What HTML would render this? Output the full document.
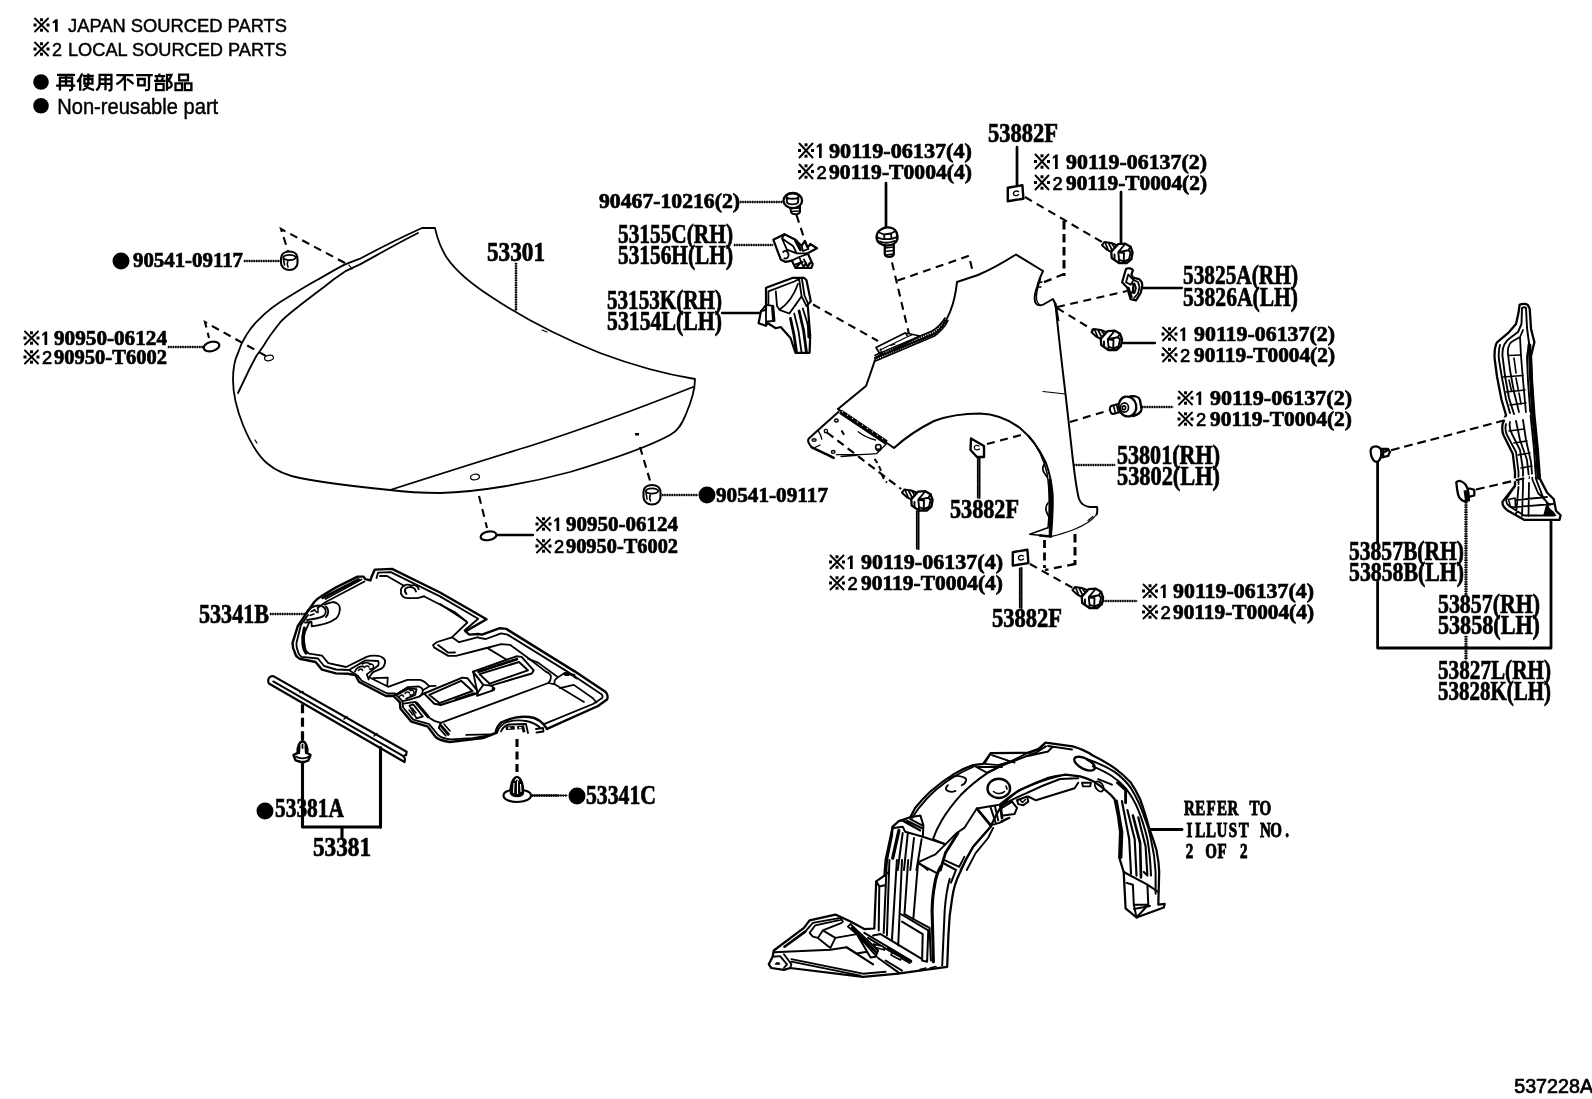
<!DOCTYPE html>
<html><head><meta charset="utf-8"><title>537228A</title>
<style>
html,body{margin:0;padding:0;background:#fff;}
body{width:1592px;height:1099px;overflow:hidden;font-family:"Liberation Sans",sans-serif;}
svg{display:block;position:absolute;left:0;top:0;filter:grayscale(1);}
.s{font-family:"Liberation Serif",serif;font-weight:bold;fill:#000;stroke:#000;stroke-width:0.7;}
.n{font-family:"Liberation Sans",sans-serif;fill:#000;stroke:#000;stroke-width:0.45;}
.m{font-family:"Liberation Mono",monospace;font-weight:bold;fill:#000;}
.l{fill:none;stroke:#000;stroke-width:1.6;stroke-linecap:round;stroke-linejoin:round;}
.t{fill:none;stroke:#000;stroke-width:1.2;stroke-linecap:round;stroke-linejoin:round;}
.b{fill:none;stroke:#000;stroke-width:2.7;stroke-linecap:round;stroke-linejoin:round;}
.d{fill:none;stroke:#000;stroke-width:2.1;stroke-dasharray:8 5.5;}
.dd{fill:none;stroke:#000;stroke-width:2.6;stroke-dasharray:1.3 1.1;}
.w{fill:#fff;stroke:#000;stroke-width:1.4;stroke-linejoin:round;}
.k{fill:#000;stroke:none;}
</style></head><body>
<svg width="1592" height="1099" viewBox="0 0 1592 1099">
<rect x="0" y="0" width="1592" height="1099" fill="#fff"/>
<!-- 10_text.svg -->
<g id="text">
<path class="l" style="stroke-width:1.9" d="M35.0 18.5 L48.0 31.5 M48.0 18.5 L35.0 31.5"/>
<rect class="k" x="40.0" y="18.3" width="3" height="3"/>
<rect class="k" x="40.0" y="28.7" width="3" height="3"/>
<rect class="k" x="33.5" y="23.5" width="3" height="3"/>
<rect class="k" x="46.5" y="23.5" width="3" height="3"/>
<path class="k" d="M55.0 31.8 L55.0 22.4 L52.7 23.8 L52.7 21.8 L55.7 19.2 L57.7 19.2 L57.7 31.8 Z"/>
<text class="n" x="68.0" y="31.8" font-size="18.0" textLength="219.0" lengthAdjust="spacingAndGlyphs">JAPAN SOURCED PARTS</text>
<path class="l" style="stroke-width:1.9" d="M35.0 42.5 L48.0 55.5 M48.0 42.5 L35.0 55.5"/>
<rect class="k" x="40.0" y="42.3" width="3" height="3"/>
<rect class="k" x="40.0" y="52.7" width="3" height="3"/>
<rect class="k" x="33.5" y="47.5" width="3" height="3"/>
<rect class="k" x="46.5" y="47.5" width="3" height="3"/>
<text class="n" x="52" y="55.6" font-size="18">2</text>
<text class="n" x="68.0" y="55.6" font-size="18.0" textLength="219.0" lengthAdjust="spacingAndGlyphs">LOCAL SOURCED PARTS</text>
<ellipse class="k" cx="41.0" cy="82.0" rx="7.8" ry="7.8"/>
<ellipse class="k" cx="41.0" cy="105.8" rx="7.8" ry="7.8"/>
<text class="n" x="57.2" y="113.5" font-size="22.2" textLength="161.0" lengthAdjust="spacingAndGlyphs">Non-reusable part</text>
<text class="s" x="487.0" y="261.0" font-size="26.3" textLength="58.0" lengthAdjust="spacingAndGlyphs">53301</text>
<text class="s" x="618.0" y="243.0" font-size="26.3" textLength="115.0" lengthAdjust="spacingAndGlyphs">53155C(RH)</text>
<text class="s" x="618.0" y="264.0" font-size="26.3" textLength="115.0" lengthAdjust="spacingAndGlyphs">53156H(LH)</text>
<text class="s" x="607.0" y="309.0" font-size="26.3" textLength="115.0" lengthAdjust="spacingAndGlyphs">53153K(RH)</text>
<text class="s" x="607.0" y="330.0" font-size="26.3" textLength="115.0" lengthAdjust="spacingAndGlyphs">53154L(LH)</text>
<text class="s" x="988.0" y="142.0" font-size="26.3" textLength="70.0" lengthAdjust="spacingAndGlyphs">53882F</text>
<text class="s" x="1183.0" y="284.0" font-size="26.3" textLength="115.0" lengthAdjust="spacingAndGlyphs">53825A(RH)</text>
<text class="s" x="1183.0" y="306.0" font-size="26.3" textLength="115.0" lengthAdjust="spacingAndGlyphs">53826A(LH)</text>
<text class="s" x="1117.0" y="464.0" font-size="26.3" textLength="103.0" lengthAdjust="spacingAndGlyphs">53801(RH)</text>
<text class="s" x="1117.0" y="485.0" font-size="26.3" textLength="103.0" lengthAdjust="spacingAndGlyphs">53802(LH)</text>
<text class="s" x="950.0" y="518.0" font-size="26.3" textLength="69.0" lengthAdjust="spacingAndGlyphs">53882F</text>
<text class="s" x="992.0" y="627.0" font-size="26.3" textLength="70.0" lengthAdjust="spacingAndGlyphs">53882F</text>
<text class="s" x="1349.0" y="560.0" font-size="26.3" textLength="115.0" lengthAdjust="spacingAndGlyphs">53857B(RH)</text>
<text class="s" x="1349.0" y="581.0" font-size="26.3" textLength="115.0" lengthAdjust="spacingAndGlyphs">53858B(LH)</text>
<text class="s" x="1438.0" y="613.0" font-size="26.3" textLength="102.0" lengthAdjust="spacingAndGlyphs">53857(RH)</text>
<text class="s" x="1438.0" y="634.0" font-size="26.3" textLength="102.0" lengthAdjust="spacingAndGlyphs">53858(LH)</text>
<text class="s" x="1438.0" y="679.0" font-size="26.3" textLength="113.0" lengthAdjust="spacingAndGlyphs">53827L(RH)</text>
<text class="s" x="1438.0" y="700.0" font-size="26.3" textLength="113.0" lengthAdjust="spacingAndGlyphs">53828K(LH)</text>
<text class="s" x="199.0" y="623.0" font-size="26.3" textLength="70.0" lengthAdjust="spacingAndGlyphs">53341B</text>
<text class="s" x="275.0" y="817.3" font-size="26.3" textLength="69.0" lengthAdjust="spacingAndGlyphs">53381A</text>
<ellipse class="k" cx="265.0" cy="811.0" rx="8.5" ry="8.5"/>
<text class="s" x="313.0" y="856.0" font-size="26.3" textLength="58.0" lengthAdjust="spacingAndGlyphs">53381</text>
<text class="s" x="586.0" y="804.0" font-size="26.3" textLength="70.0" lengthAdjust="spacingAndGlyphs">53341C</text>
<ellipse class="k" cx="577.0" cy="796.0" rx="8.5" ry="8.5"/>
<text class="s" x="133.0" y="267.0" font-size="21.4" textLength="110.0" lengthAdjust="spacingAndGlyphs">90541-09117</text>
<ellipse class="k" cx="121.0" cy="261.0" rx="8.5" ry="8.5"/>
<text class="s" x="716.0" y="502.0" font-size="21.4" textLength="112.0" lengthAdjust="spacingAndGlyphs">90541-09117</text>
<ellipse class="k" cx="707.0" cy="495.0" rx="8.5" ry="8.5"/>
<path class="l" style="stroke-width:1.9" d="M25.0 331.5 L38.0 344.5 M38.0 331.5 L25.0 344.5"/>
<rect class="k" x="30.0" y="331.3" width="3" height="3"/>
<rect class="k" x="30.0" y="341.7" width="3" height="3"/>
<rect class="k" x="23.5" y="336.5" width="3" height="3"/>
<rect class="k" x="36.5" y="336.5" width="3" height="3"/>
<path class="k" d="M44.5 345.0 L44.5 334.6 L42.2 336.0 L42.2 334.0 L45.2 331.4 L47.2 331.4 L47.2 345.0 Z"/>
<text class="s" x="54.0" y="345.0" font-size="21.4" textLength="113.0" lengthAdjust="spacingAndGlyphs">90950-06124</text>
<path class="l" style="stroke-width:1.9" d="M25.0 350.5 L38.0 363.5 M38.0 350.5 L25.0 363.5"/>
<rect class="k" x="30.0" y="350.3" width="3" height="3"/>
<rect class="k" x="30.0" y="360.7" width="3" height="3"/>
<rect class="k" x="23.5" y="355.5" width="3" height="3"/>
<rect class="k" x="36.5" y="355.5" width="3" height="3"/>
<text class="n" style="stroke-width:0.7" x="42.1" y="364.0" font-size="18.3">2</text>
<text class="s" x="54.0" y="364.0" font-size="21.4" textLength="113.0" lengthAdjust="spacingAndGlyphs">90950-T6002</text>
<path class="l" style="stroke-width:1.9" d="M537.0 517.5 L550.0 530.5 M550.0 517.5 L537.0 530.5"/>
<rect class="k" x="542.0" y="517.3" width="3" height="3"/>
<rect class="k" x="542.0" y="527.7" width="3" height="3"/>
<rect class="k" x="535.5" y="522.5" width="3" height="3"/>
<rect class="k" x="548.5" y="522.5" width="3" height="3"/>
<path class="k" d="M556.5 531.0 L556.5 520.6 L554.2 522.0 L554.2 520.0 L557.2 517.4 L559.2 517.4 L559.2 531.0 Z"/>
<text class="s" x="566.0" y="531.0" font-size="21.4" textLength="112.0" lengthAdjust="spacingAndGlyphs">90950-06124</text>
<path class="l" style="stroke-width:1.9" d="M537.0 539.5 L550.0 552.5 M550.0 539.5 L537.0 552.5"/>
<rect class="k" x="542.0" y="539.3" width="3" height="3"/>
<rect class="k" x="542.0" y="549.7" width="3" height="3"/>
<rect class="k" x="535.5" y="544.5" width="3" height="3"/>
<rect class="k" x="548.5" y="544.5" width="3" height="3"/>
<text class="n" style="stroke-width:0.7" x="554.1" y="553.0" font-size="18.3">2</text>
<text class="s" x="566.0" y="553.0" font-size="21.4" textLength="112.0" lengthAdjust="spacingAndGlyphs">90950-T6002</text>
<text class="s" x="599.0" y="208.0" font-size="21.4" textLength="141.0" lengthAdjust="spacingAndGlyphs">90467-10216(2)</text>
<path class="l" style="stroke-width:1.9" d="M799.5 143.5 L812.5 157.5 M812.5 143.5 L799.5 157.5"/>
<rect class="k" x="804.5" y="143.3" width="3" height="3"/>
<rect class="k" x="804.5" y="154.7" width="3" height="3"/>
<rect class="k" x="798.0" y="149.0" width="3" height="3"/>
<rect class="k" x="811.0" y="149.0" width="3" height="3"/>
<path class="k" d="M819.0 158.0 L819.0 146.6 L816.7 148.0 L816.7 146.0 L819.7 143.4 L821.7 143.4 L821.7 158.0 Z"/>
<text class="s" x="829.0" y="158.0" font-size="21.4" textLength="143.0" lengthAdjust="spacingAndGlyphs">90119-06137(4)</text>
<path class="l" style="stroke-width:1.9" d="M799.5 164.5 L812.5 178.5 M812.5 164.5 L799.5 178.5"/>
<rect class="k" x="804.5" y="164.3" width="3" height="3"/>
<rect class="k" x="804.5" y="175.7" width="3" height="3"/>
<rect class="k" x="798.0" y="170.0" width="3" height="3"/>
<rect class="k" x="811.0" y="170.0" width="3" height="3"/>
<text class="n" style="stroke-width:0.7" x="816.6" y="179.0" font-size="18.3">2</text>
<text class="s" x="829.0" y="179.0" font-size="21.4" textLength="143.0" lengthAdjust="spacingAndGlyphs">90119-T0004(4)</text>
<path class="l" style="stroke-width:1.9" d="M1035.5 154.5 L1048.5 168.5 M1048.5 154.5 L1035.5 168.5"/>
<rect class="k" x="1040.5" y="154.3" width="3" height="3"/>
<rect class="k" x="1040.5" y="165.7" width="3" height="3"/>
<rect class="k" x="1034.0" y="160.0" width="3" height="3"/>
<rect class="k" x="1047.0" y="160.0" width="3" height="3"/>
<path class="k" d="M1055.0 169.0 L1055.0 157.6 L1052.7 159.0 L1052.7 157.0 L1055.7 154.4 L1057.7 154.4 L1057.7 169.0 Z"/>
<text class="s" x="1066.0" y="169.0" font-size="21.4" textLength="141.0" lengthAdjust="spacingAndGlyphs">90119-06137(2)</text>
<path class="l" style="stroke-width:1.9" d="M1035.5 175.5 L1048.5 189.5 M1048.5 175.5 L1035.5 189.5"/>
<rect class="k" x="1040.5" y="175.3" width="3" height="3"/>
<rect class="k" x="1040.5" y="186.7" width="3" height="3"/>
<rect class="k" x="1034.0" y="181.0" width="3" height="3"/>
<rect class="k" x="1047.0" y="181.0" width="3" height="3"/>
<text class="n" style="stroke-width:0.7" x="1052.6" y="190.0" font-size="18.3">2</text>
<text class="s" x="1066.0" y="190.0" font-size="21.4" textLength="141.0" lengthAdjust="spacingAndGlyphs">90119-T0004(2)</text>
<path class="l" style="stroke-width:1.9" d="M1163.0 327.5 L1176.0 340.5 M1176.0 327.5 L1163.0 340.5"/>
<rect class="k" x="1168.0" y="327.3" width="3" height="3"/>
<rect class="k" x="1168.0" y="337.7" width="3" height="3"/>
<rect class="k" x="1161.5" y="332.5" width="3" height="3"/>
<rect class="k" x="1174.5" y="332.5" width="3" height="3"/>
<path class="k" d="M1182.5 341.0 L1182.5 330.6 L1180.2 332.0 L1180.2 330.0 L1183.2 327.4 L1185.2 327.4 L1185.2 341.0 Z"/>
<text class="s" x="1194.0" y="341.0" font-size="21.4" textLength="141.0" lengthAdjust="spacingAndGlyphs">90119-06137(2)</text>
<path class="l" style="stroke-width:1.9" d="M1163.0 348.0 L1176.0 361.5 M1176.0 348.0 L1163.0 361.5"/>
<rect class="k" x="1168.0" y="347.8" width="3" height="3"/>
<rect class="k" x="1168.0" y="358.7" width="3" height="3"/>
<rect class="k" x="1161.5" y="353.2" width="3" height="3"/>
<rect class="k" x="1174.5" y="353.2" width="3" height="3"/>
<text class="n" style="stroke-width:0.7" x="1180.1" y="362.0" font-size="18.3">2</text>
<text class="s" x="1194.0" y="362.0" font-size="21.4" textLength="141.0" lengthAdjust="spacingAndGlyphs">90119-T0004(2)</text>
<path class="l" style="stroke-width:1.9" d="M1179.0 391.5 L1192.0 404.5 M1192.0 391.5 L1179.0 404.5"/>
<rect class="k" x="1184.0" y="391.3" width="3" height="3"/>
<rect class="k" x="1184.0" y="401.7" width="3" height="3"/>
<rect class="k" x="1177.5" y="396.5" width="3" height="3"/>
<rect class="k" x="1190.5" y="396.5" width="3" height="3"/>
<path class="k" d="M1198.5 405.0 L1198.5 394.6 L1196.2 396.0 L1196.2 394.0 L1199.2 391.4 L1201.2 391.4 L1201.2 405.0 Z"/>
<text class="s" x="1210.0" y="405.0" font-size="21.4" textLength="142.0" lengthAdjust="spacingAndGlyphs">90119-06137(2)</text>
<path class="l" style="stroke-width:1.9" d="M1179.0 412.5 L1192.0 425.5 M1192.0 412.5 L1179.0 425.5"/>
<rect class="k" x="1184.0" y="412.3" width="3" height="3"/>
<rect class="k" x="1184.0" y="422.7" width="3" height="3"/>
<rect class="k" x="1177.5" y="417.5" width="3" height="3"/>
<rect class="k" x="1190.5" y="417.5" width="3" height="3"/>
<text class="n" style="stroke-width:0.7" x="1196.1" y="426.0" font-size="18.3">2</text>
<text class="s" x="1210.0" y="426.0" font-size="21.4" textLength="142.0" lengthAdjust="spacingAndGlyphs">90119-T0004(2)</text>
<path class="l" style="stroke-width:1.9" d="M830.5 555.5 L843.5 568.5 M843.5 555.5 L830.5 568.5"/>
<rect class="k" x="835.5" y="555.3" width="3" height="3"/>
<rect class="k" x="835.5" y="565.7" width="3" height="3"/>
<rect class="k" x="829.0" y="560.5" width="3" height="3"/>
<rect class="k" x="842.0" y="560.5" width="3" height="3"/>
<path class="k" d="M850.0 569.0 L850.0 558.6 L847.7 560.0 L847.7 558.0 L850.7 555.4 L852.7 555.4 L852.7 569.0 Z"/>
<text class="s" x="861.0" y="569.0" font-size="21.4" textLength="142.0" lengthAdjust="spacingAndGlyphs">90119-06137(4)</text>
<path class="l" style="stroke-width:1.9" d="M830.5 576.5 L843.5 589.5 M843.5 576.5 L830.5 589.5"/>
<rect class="k" x="835.5" y="576.3" width="3" height="3"/>
<rect class="k" x="835.5" y="586.7" width="3" height="3"/>
<rect class="k" x="829.0" y="581.5" width="3" height="3"/>
<rect class="k" x="842.0" y="581.5" width="3" height="3"/>
<text class="n" style="stroke-width:0.7" x="847.6" y="590.0" font-size="18.3">2</text>
<text class="s" x="861.0" y="590.0" font-size="21.4" textLength="142.0" lengthAdjust="spacingAndGlyphs">90119-T0004(4)</text>
<path class="l" style="stroke-width:1.9" d="M1143.5 584.5 L1156.5 597.5 M1156.5 584.5 L1143.5 597.5"/>
<rect class="k" x="1148.5" y="584.3" width="3" height="3"/>
<rect class="k" x="1148.5" y="594.7" width="3" height="3"/>
<rect class="k" x="1142.0" y="589.5" width="3" height="3"/>
<rect class="k" x="1155.0" y="589.5" width="3" height="3"/>
<path class="k" d="M1163.0 598.0 L1163.0 587.6 L1160.7 589.0 L1160.7 587.0 L1163.7 584.4 L1165.7 584.4 L1165.7 598.0 Z"/>
<text class="s" x="1173.0" y="598.0" font-size="21.4" textLength="141.0" lengthAdjust="spacingAndGlyphs">90119-06137(4)</text>
<path class="l" style="stroke-width:1.9" d="M1143.5 605.5 L1156.5 618.5 M1156.5 605.5 L1143.5 618.5"/>
<rect class="k" x="1148.5" y="605.3" width="3" height="3"/>
<rect class="k" x="1148.5" y="615.7" width="3" height="3"/>
<rect class="k" x="1142.0" y="610.5" width="3" height="3"/>
<rect class="k" x="1155.0" y="610.5" width="3" height="3"/>
<text class="n" style="stroke-width:0.7" x="1160.6" y="619.0" font-size="18.3">2</text>
<text class="s" x="1173.0" y="619.0" font-size="21.4" textLength="141.0" lengthAdjust="spacingAndGlyphs">90119-T0004(4)</text>
<g transform="translate(1184.0 814.6) scale(0.740 1)"><text class="s" style="stroke-width:0.9" text-anchor="middle" x="7.33 21.99 36.66 51.32 65.98 80.64 95.30 109.97" y="0" font-size="20.3">REFER TO</text></g>
<g transform="translate(1184.0 836.7) scale(0.740 1)"><text class="s" style="stroke-width:0.9" text-anchor="middle" x="7.33 21.99 36.66 51.32 65.98 80.64 95.30 109.97 124.63 139.29" y="0" font-size="20.3">ILLUST NO.</text></g>
<g transform="translate(1184.0 857.8) scale(0.740 1)"><text class="s" style="stroke-width:0.9" text-anchor="middle" x="7.33 21.99 36.66 51.32 65.98 80.64" y="0" font-size="20.3">2 OF 2</text></g>
<text class="n" style="stroke-width:0.7" x="1514.2" y="1093" font-size="19.7">537228A</text>
</g>
<!-- 15_jp.svg -->
<g id="jp" fill="none" stroke="#000" stroke-width="2.300" stroke-linecap="butt" stroke-linejoin="miter">
<!-- 再 -->
<path d="M57 74.900 H75 M59.900 77.400 V90.600 M72.100 77.400 V88.500 C72.100 90 71 90.300 69 90.300 M58.800 77.600 H73.200 M59.900 81.400 H72.100 M66 74.900 V85.400 M56.100 85.600 H75.200"/>
<!-- 使 -->
<path d="M82.300 73.500 C81 77 79.500 79.500 77.200 82 M80.200 78.400 V90.800 M83 76 H93.800 M84.400 79 H92.400 V83.600 H84.400 Z M88.300 73.600 V84 C87.500 87 85.500 89 82.500 90.300 M84.400 85.400 C87 87.500 90 89.200 94 90.200"/>
<!-- 用 -->
<path d="M99.600 74.800 H111.400 V88.700 C111.400 90.200 110.500 90.500 108.500 90.500 M99.600 73.700 V84 C99.500 87 98.500 89 96.200 90.300 M99.600 79.300 H111.400 M99.600 83.800 H111.400 M105.500 74.800 V90.300"/>
<!-- 不 -->
<path d="M116.400 75.100 H133.500 M124.900 75.100 V90.800 M125 75.500 C123 79.500 120 82.500 116.300 84.300 M127 79 C129.500 80.500 131.500 82 133.500 84"/>
<!-- 可 -->
<path d="M136.100 75.100 H152.800 M138.200 79 H144.700 V85.400 H138.200 Z M149 75.100 V88.500 C149 90 148 90.300 145 90.200"/>
<!-- 部 -->
<path d="M159.400 73.600 V76 M154.600 76.200 H165 M156.700 77.500 L157.500 80.500 M162.800 77.500 L162 80.500 M154.100 80.800 H165.500 M156.100 83.800 H163.600 V90.100 H156.100 Z M167 73.700 V90.800 M167 74.800 H171.500 C170.500 77.500 169.500 79 168.500 80.500 C171 82 172 84 171.500 86 C171 87.500 170 88 168 87.800"/>
<!-- 品 -->
<path d="M179.200 74.600 H188 V80.300 H179.200 Z M175.500 83.300 H182 V90.100 H175.500 Z M184.900 83.300 H191.400 V90.100 H184.900 Z"/>
</g>
<!-- 20_hood.svg -->
<g id="hood">
<!-- outer outline -->
<path class="l" style="stroke-width:1.800" d="M422 228 L435 228 C436 232 438 244 447 258 C456 271 470 283 490 296 C520 316 560 337 600 353 C640 368 670 375 695 379
 C695 388 692 400 686 414 C682 424 678 431 670 435 C650 446 610 460 570 472 C530 483 480 492 440 493 C420 493 405 492 390 490
 C360 487 330 484 300 478 C285 475 275 470 268 464 C258 456 250 442 243 425 C237 410 233 395 233 380 C233 370 234 361 238 353 C240 346 243 340 246.400 334.900 C250 329 254 324 259 319.400 C268 310 278 303 288.700 296.800 C298 291 308 285 317 280 C326 275 336 269 345 264.400 L360 258.700 C380 248 402 237 422 228 Z"/>
<!-- inner left line -->
<path class="l" style="stroke-width:1.800" d="M418 233 C398 243 379 254 360 264.400 L345 271.400 C338 276 331 281 324 287 C316 293 308 299 300 305.300 C293 311 286 316 280.300 322.200 C274 330 268 338 263.300 346.200 L256.300 356 L249 370 L238 393"/>
<!-- crease -->
<path class="l" style="stroke-width:1.800" d="M390 490 C440 474 490 458 530 446 C580 430 640 408 693 387"/>
<!-- small marks -->
<path class="t" d="M349 265 l3 4 M255 440 l2 3 M542 330 l5 2"/>
<rect class="k" x="635" y="433" width="4" height="2.5"/>
<ellipse class="t" cx="269" cy="358" rx="4.5" ry="2.6" transform="rotate(-12 269 358)"/>
<ellipse class="t" cx="475" cy="477" rx="4.5" ry="2.8" transform="rotate(-12 475 477)"/>
<!-- dashed leaders -->
<path class="d" d="M345 263 L281 229 L288 251"/>
<path class="d" d="M266 356 L205 322 L209 338"/>
<path class="d" d="M479 496 L487 528"/>
<path class="d" d="M640 447 L651 484"/>
<!-- ovals (grommets) -->
<ellipse class="w" style="stroke-width:2.200" cx="211.5" cy="346.5" rx="8" ry="4.6" transform="rotate(-14 211.5 346.5)"/>
<ellipse class="w" style="stroke-width:2.200" cx="488.5" cy="535.8" rx="8" ry="4.3" transform="rotate(-10 488.5 535.8)"/>
<!-- leaders -->
<path class="t" style="stroke-width:1.1" d="M244 261 L281 261"/><path class="dd" d="M244 261 L281 261"/>
<path class="t" style="stroke-width:1.1" d="M168 347 L203 347"/><path class="dd" d="M168 347 L203 347"/>
<path class="l" style="stroke-width:2.300" d="M497 535 L533 535"/>
<path class="t" style="stroke-width:1.1" d="M662 495 L698 495"/><path class="dd" d="M662 495 L698 495"/>
<path class="t" style="stroke-width:1.1" d="M516 263 L516 311"/><path class="dd" d="M516 263 L516 311"/>
<!-- nuts -->
<g id="nut1">
<path class="w" style="stroke-width:2.100" d="M281 259 C281 254 285 251.500 289.500 251.500 C294 251.500 297.500 254 297.500 259 L297.500 263 C297.500 267 294 270 289.500 270 C285 270 281 267 281 263 Z"/>
<path class="l" style="stroke-width:1.600" d="M283 257.500 C285 254 294 254 296 257.500 C294 261 285 261 283 257.500 Z M283.500 259 L284.500 265 M288 260.500 C287 263 287 265 288 267"/>
</g>
<g id="nut2">
<path class="w" style="stroke-width:2.100" d="M643.500 492.500 C643.500 487.500 647.500 485 652 485 C656.500 485 660.500 487.500 660.500 492.500 L660.500 497 C660.500 501 657 504.500 652 504.500 C647 504.500 643.500 501 643.500 497 Z"/>
<path class="l" style="stroke-width:1.600" d="M645.500 491 C647.500 487.500 656.500 487.500 658.500 491 C656.500 494.500 647.500 494.500 645.500 491 Z M646 492.500 L647 499 M650.500 494 C649.500 496.500 649.500 499 650.500 501"/>
</g>
</g>
<!-- 30_fender.svg -->
<g id="fender">
<!-- main outline upper -->
<path class="l" style="stroke-width:2" d="M838 409 L866 386 C869 378 872 369 875 360
 M875 358 L934 334 C940 330 946 322 950 312 C954 302 956 292 957 282 L978 275 C990 270 1001 264 1016 254.5 L1043 271
 C1041 275 1039 280 1037 287 C1034 296 1034 301 1036 303.5 C1038 306 1042 306 1046 303 L1053 299 L1055.5 304
 C1058 330 1062 365 1065.5 394 C1068 415 1070 435 1072 452 C1074 470 1076 488 1079 499 C1081 504 1085 506.500 1090 507 L1097 507 C1097.500 510 1097.300 512.500 1096.600 514.500"/>
<path class="t" style="stroke-width:1.200" d="M1096.600 514.500 C1094 518 1091 520.500 1088.600 522 C1084 525 1079 527.500 1074 529.500 C1066 532.500 1058 535 1051.500 536.400 M1088 520.500 l5 -4"/>
<path class="l" style="stroke-width:1.500" d="M1051.500 536.400 L1029.700 534.300 L1047.800 527.700"/>
<path class="b" style="stroke-width:2.600" d="M1040 535.500 L1051 536.500"/>
<path class="k" d="M1053 300 L1056.500 303.500 L1059.500 321 L1057.500 321 L1054.500 306 Z"/>
<path class="t" d="M1043 391.5 L1065.5 394"/>
<path class="t" style="stroke-width:1.400" d="M1038 283 l4 -1 M1038 287 l3 0 M1040.500 279 C1038 286 1036 293 1036.500 299 C1037 302 1039 304.500 1041 305.500"/>
<!-- wheel arch -->
<path class="l" style="stroke-width:2" d="M838 409 L894 448 C905 438 918 429 934 421 C950 415 965 413.5 980 413.5 C995 414 1008 419 1020 428 C1032 438 1040 450 1046 463 C1050 474 1052 486 1052.7 495 C1053 510 1052 525 1051 536"/>
<path class="l" style="stroke-width:1.500" d="M1029 436 C1038 447 1044 460 1047 473 C1049 485 1049.500 500 1049 515 L1048 528"/>
<path class="b" style="stroke-width:3.200" d="M1049.800 480 C1050.800 495 1050.800 515 1050.300 535.500"/>
<path class="l" style="stroke-width:1.700" d="M1044.500 464 C1042.500 466.500 1042.500 470 1044 472.500 L1047 477 M1048 503 C1045.500 506 1045.500 510 1047 513 L1049.500 518 M1029 437 l5 5.500"/>
<!-- upper rail with hatching -->
<path class="w" style="stroke-width:1.700" d="M876 347.500 L905 333 L913 334.500 L920 336 L887 353 L880 354 Z"/>
<path class="l" style="stroke-width:1.300" d="M880 350 L908 336.500 M905 333 L908 336.500 L913 334.500"/>
<path class="t" d="M891 345.500 l4 -1.500 M880.500 349 l1 4"/>
<path d="M876 358 L933 333.500 C939 329.500 943 325 946 319.500" fill="none" stroke="#000" stroke-width="4.600" stroke-dasharray="1.300 1.100"/>
<path class="l" style="stroke-width:1.600" d="M875 355.300 L932 331 C938 327.500 942 323 945 318 M875.500 361 L934.500 336 C940 332 945 327 948 320.500"/>
<!-- lower band hatch -->
<path d="M840.500 411.800 L886.400 442.500" fill="none" stroke="#000" stroke-width="4.800"/>
<path d="M842 411.500 L886 441" fill="none" stroke="#fff" stroke-width="1.100" stroke-dasharray="1.200 4.800"/>
<!-- bottom tab -->
<path class="l" style="stroke-width:2" d="M838.700 411.800 L818.200 430 L809.100 438.200 C808 439.500 808 441.500 808.600 442.800 C809.500 444.500 810.500 446 811.800 447.300"/>
<path class="b" style="stroke-width:2.600;stroke-dasharray:4 1.300" d="M811.800 447.300 L833.700 457.800"/>
<path class="l" style="stroke-width:1.300" d="M836.400 454.600 L860 454.600 M841 456.500 L857 455.300 M860 454.600 C866 454.500 872 454.300 876.400 453.700 L886.400 443.700"/>
<path class="l" style="stroke-width:1.300" d="M858.200 431.800 C863 435.500 869 438.500 875.500 440 M818.200 430.900 C820 433.500 821.300 436.500 821.800 439.100 M815 447.500 l5 -2.500"/>
<ellipse class="l" style="stroke-width:1.400" cx="836.400" cy="420.500" rx="1.800" ry="1.500"/>
<ellipse class="l" style="stroke-width:1.400" cx="825.900" cy="430.900" rx="1.600" ry="1.800"/>
<ellipse class="l" style="stroke-width:1.400" cx="814.100" cy="440" rx="2" ry="1.300"/>
<ellipse class="l" style="stroke-width:1.400" cx="833.200" cy="451.900" rx="1.800" ry="1.400"/>
<ellipse class="l" style="stroke-width:1.600" cx="878.300" cy="446.900" rx="2.700" ry="2.400"/>
<path class="t" style="stroke-width:1.300" d="M876 449.500 c1 1.500 3 1.500 4.500 0.500"/>
<!-- dashed leaders -->
<path class="d" d="M892 262.5 L909 334"/>
<path class="d" d="M897.5 280.6 L969 255.8 L973 273"/>
<path class="d" d="M813 304.5 L878 341"/>
<path class="d" d="M1025 197 L1102 242"/>
<path class="d" style="stroke-width:3;stroke-dasharray:8.500 4.500" d="M1064 221 L1064 276"/><path class="d" style="stroke-width:2.300" d="M1064 274 L1043 282.500"/>
<path class="d" d="M1057 307 L1127 291"/>
<path class="d" d="M1057 308 L1093 330"/>
<path class="d" d="M1070 422 L1110 410"/>
<path class="d" d="M987 444 L1025 434"/>
<path class="d" style="stroke-width:2.200;stroke-dasharray:8 5" d="M827 432.500 L901 489"/>
<path class="d" style="stroke-width:2;stroke-dasharray:5 3.500" d="M841.500 430.500 l3 5 M874.500 459 C878 463 881 470 882.500 476 C883.500 479 885 481 887 482.500"/>
<path class="d" style="stroke-width:3;stroke-dasharray:8.500 4.500" d="M1075 534 L1075 565"/><path class="d" style="stroke-width:2.300" d="M1075 564 L1045 570"/>
<path class="d" style="stroke-width:2.800;stroke-dasharray:8 4.500" d="M1044.500 540 L1044.500 568"/>
<path class="d" d="M1030 564 L1073 588"/>
<!-- leaders -->
<path class="b" d="M886 183 L886 227"/>
<path class="b" d="M1017 147 L1017 185"/>
<path class="b" d="M1121 192 L1121 243"/>
<path class="l" style="stroke-width:2.300" d="M1142 288 L1182 288"/>
<path class="l" style="stroke-width:2.300" d="M1123 343 L1155 343"/>
<path class="t" style="stroke-width:1.1" d="M1142 407 L1173 407"/><path class="dd" d="M1142 407 L1173 407"/>
<path class="t" style="stroke-width:1.1" d="M1073.500 465 L1115 465"/><path class="dd" d="M1073.500 465 L1115 465"/>
<path class="b" style="stroke-width:2.200" d="M979.4 458 L979.4 498"/><path class="t" style="stroke-width:1.1" d="M977.6 458 L977.6 498"/><path class="dd" style="stroke-width:1.600;stroke-dasharray:1.200 1" d="M977.6 458 L977.6 498"/>
<path class="b" style="stroke-width:2.200" d="M918.4 511 L918.4 549"/><path class="t" style="stroke-width:1.1" d="M916.6 511 L916.6 549"/><path class="dd" style="stroke-width:1.600;stroke-dasharray:1.200 1" d="M916.6 511 L916.6 549"/>
<path class="b" style="stroke-width:2.200" d="M1021.4 568 L1021.4 608"/><path class="t" style="stroke-width:1.1" d="M1019.6 568 L1019.6 608"/><path class="dd" style="stroke-width:1.600;stroke-dasharray:1.200 1" d="M1019.6 568 L1019.6 608"/>
<path class="t" style="stroke-width:1.1" d="M1103 601 L1137 601"/><path class="dd" d="M1103 601 L1137 601"/>
<path class="t" style="stroke-width:1.1" d="M740 202 L783 202"/><path class="dd" d="M740 202 L783 202"/>
<path class="t" style="stroke-width:1.1" d="M734 245 L773 245"/><path class="dd" d="M734 245 L773 245"/>
<path class="l" style="stroke-width:2.300" d="M722 313 L760 313"/>
</g>
<!-- 40_hardware.svg -->
<g id="hardware">
<defs>
<!-- angled bolt: head centre at 0,0 ; thread toward upper-left -->
<g id="abolt">
<path class="w" style="stroke-width:2" d="M-20 -8.300 L-17.700 -11.400 L-10.700 -10.600 L-5 -8.300 L-10.700 -1.700 L-15.300 -4 Z"/>
<path class="t" style="stroke-width:1.700" d="M-16.500 -10 l2.300 5.500 M-13.200 -10 l3 6 M-10 -9.800 l3.500 5"/>
<path class="w" style="stroke-width:2.300" d="M-10.700 -1.700 L-3.700 -9.400 L3.200 -9.800 L8.600 -6.700 L10.600 -1 L9.400 5.600 L4.800 9.500 L-3 9.500 L-10.300 4.500 Z"/>
<path class="l" style="stroke-width:1.900" d="M-3.700 -1.300 L6.300 -3.300 L8.600 -1 L7 6 L1.700 8 L-3 6 Z M-3.700 -1.300 L1 -7 L3.200 -9.800 M6.300 -3.300 L8.600 -6.700 M1.700 8 L2 -0.500 L-3.700 -1.300 M-7.500 1 L-7.500 5.500 M-3 6 L-3 9.500"/>
</g>
<!-- square clip -->
<g id="sqclip">
<path class="w" style="stroke-width:2.4" d="M-8.2 -5.8 L6.4 -8.3 L7.4 5.1 L-8.2 7.6 Z"/>
<path class="l" style="stroke-width:1.4" d="M2.5 -2 C0 -3.5 -3 -2 -2.5 0.5 C-2 2.5 1 2.5 2.5 1"/>
</g>
</defs>
<!-- vertical bolt 90119 (4) top -->
<g id="vbolt">
<path class="w" style="stroke-width:2.300" d="M884.8 244 L884.8 253.5 C885 258 893.5 258 893.8 253.5 L893.8 244 Z"/>
<path class="t" style="stroke-width:1.700" d="M885 248 l8.5 -1 M885 251.5 l8.5 -1 M885.5 255 l8 -1"/>
<path class="w" style="stroke-width:2.300" d="M876.5 238 C876.5 234 878 231 881 229.5 C884 227.5 889 227 893 228.5 C896 230 897.5 234 897.5 238.5 C897 242 893 245.5 887 245.5 C881 245.5 877 242 876.5 238 Z"/>
<path class="l" style="stroke-width:1.800" d="M877 237 C881 240 893 240 897.5 236.5 M879 232.5 L884 234.5 L891 233.5 L895.5 231 M884 234.5 L884.5 239 M891 233.5 L891.5 238.5 M880 241.5 C884 243 890 243 894.5 241"/>
</g>
<!-- small bolt 90467 -->
<g id="sbolt">
<path class="w" style="stroke-width:2" d="M790 205 L791 212 C792 215 799 215 800 212 L800 205 Z"/>
<path class="t" style="stroke-width:1.700" d="M790.5 208.5 l9 -0.5 M791 211.5 l8.5 -0.5"/>
<ellipse class="w" style="stroke-width:2.300" cx="792.8" cy="200.5" rx="9.3" ry="7.6"/>
<path class="l" style="stroke-width:1.900" d="M786.5 196.5 C787 192.5 798 192.5 798.5 196.5 C798.5 199.5 786.5 199.5 786.5 196.5 Z M786.5 197 L787 202.5 C789 205 796 205 798 202.5 L798.5 197"/>
</g>
<path class="d" d="M796.5 215 L807 247"/>
<!-- angled bolts -->
<use href="#abolt" x="1122" y="253.5"/>
<use href="#abolt" x="1111.5" y="340.5"/>
<use href="#abolt" x="922" y="501"/>
<use href="#abolt" x="1092.5" y="598.5"/>
<!-- side bolt -->
<g id="sidebolt">
<path class="w" style="stroke-width:1.900" d="M1111 406 L1120 403.5 L1122 411.5 L1113 414 C1110 414 1109 407.5 1111 406 Z"/>
<path class="t" style="stroke-width:1.600" d="M1113.5 405.5 l2 8 M1116.5 404.5 l2 8"/>
<path class="w" style="stroke-width:2.300" d="M1130 396.5 C1135 395.5 1139 397 1140 400 L1141.5 409 C1141.5 412 1138 415 1133 416 Z"/>
<ellipse class="w" style="stroke-width:2.300" cx="1127.5" cy="406.5" rx="8.8" ry="10" transform="rotate(-12 1127.5 406.5)"/>
<ellipse class="l" style="stroke-width:1.700" cx="1124.5" cy="407.5" rx="4" ry="4.6"/>
<ellipse class="l" style="stroke-width:1.600" cx="1124" cy="407.8" rx="1.6" ry="1.9"/>
</g>
<!-- square clips 53882F -->
<use href="#sqclip" x="1016" y="193.6"/>
<use href="#sqclip" x="1021" y="558"/>
<!-- diamond clip 53882F middle -->
<g id="dclip">
<path class="w" style="stroke-width:2.4" d="M971 438.5 L984 446 L984 457 L977 457 L970.5 450 Z"/>
<path class="l" style="stroke-width:1.3" d="M979 446 C976 444.5 973.5 446 974.5 448.5 C975.5 450.5 978 450 979.5 449"/>
</g>
<!-- clip 53825A -->
<g id="clip825">
<path class="w" style="stroke-width:2.200" d="M1126 269 C1128 267.500 1132 268.500 1133 270.200 L1131.400 274.500 L1133 277.600 L1139.100 279.100 C1141.500 281 1142.500 283.500 1142.200 286.100 L1140.700 293 L1136 300.400 L1130.600 299.200 L1127.200 287.600 L1122.100 282.200 Z"/>
<path class="l" style="stroke-width:1.800" d="M1128.300 274.500 L1126 282.200 L1130.600 284.600 L1133.700 280 L1130.600 277 Z M1133.700 280 L1138 282 L1139.500 287 L1138 293.500 L1134 298 M1130.600 284.600 L1134.500 283.500 L1136 288 L1134.500 293 L1131.500 292.500"/>
<path class="b" style="stroke-width:2.400" d="M1128.500 288 L1131.500 297 M1133.500 285.500 L1133 291.500"/>
<circle class="k" cx="1129.500" cy="270.700" r="0"/>
</g>
<!-- seal clips -->
<g id="clip857b">
<path class="w" style="stroke-width:2.300" d="M1381.100 448.900 L1388.100 448.900 L1389.900 452 L1388.100 455.900 L1382 457.300 Z"/>
<path class="b" style="stroke-width:2.400" d="M1383.500 451 L1383 456 M1385.500 451.500 L1387 450.500"/>
<path class="w" style="stroke-width:2.300" d="M1370.600 452 C1370.500 450 1371 448.500 1371.900 447.600 C1373 446.500 1374.500 446.200 1376.300 446.300 C1378 446.500 1379.800 447.500 1380.700 448.900 C1381.500 451 1381.600 454 1381.100 456.400 C1380.500 458.500 1379 461 1377.600 462.100 C1376 462 1374 461 1373.200 459.900 C1371.500 457.500 1370.800 454.500 1370.600 452 Z"/>
</g>
<g id="clip857">
<path class="w" style="stroke-width:2.300" d="M1463.800 489.800 L1469.900 488.500 L1474.300 489.800 L1474.300 495.500 L1469 496.800 Z"/>
<path class="k" d="M1464 490 L1468.500 489.500 L1469.500 497 L1468 501 L1464.500 501 Z"/>
<path class="w" style="stroke-width:2.300" d="M1456.300 482.300 C1457.500 481 1459 480.700 1460.300 481 C1462.500 481.800 1464.300 483 1465.500 484.500 C1467 486.500 1467.800 489 1468.200 491.600 L1469 500.400 L1463.800 501.200 C1462 500.500 1460.500 499.300 1459.400 497.700 C1458.200 495.500 1457.500 492.500 1457.200 489.800 Z"/>
<path class="k" d="M1463.500 490.500 L1468 490 L1469 500 L1465 500.800 Z"/>
</g>
<!-- bracket 53155C -->
<g id="br155">
<path class="w" style="stroke-width:2.200" d="M773.300 239.700 L784.400 234.200 L795.500 239.700 L801.600 245.900 L804.700 241 L807.700 247.700 L810.200 244 L817 248.300 L807.700 253.300 L812.700 264.300 L811.400 268 L795.500 268 L791.800 260.600 L785.600 261.900 L780.700 259.400 Z"/>
<path class="l" style="stroke-width:1.800" d="M784.400 234.200 L782 238.500 L793 245.900 L796.700 253.300 M782 238.500 L786.900 249.600 L796.700 253.300 L807.700 253.300 M783.200 252 C784 250.500 786 250.500 786.900 251.400 C788.500 253 788.800 255.500 788 257 C787 258.500 785.500 258.800 784.400 258.200 M791.800 260.600 L799.100 257 L806.500 254.500 M799.100 257 L802.800 265.500 M804 259.400 L807.700 267 M795.500 264.300 L802.800 261.900 M801.600 245.900 L803 251 L808.500 249"/>
<path class="b" style="stroke-width:3" d="M795.500 240.500 L800.400 249.600"/>
<path class="b" style="stroke-width:2.400" d="M797 266.500 L800.500 262.500 M803.500 266.500 L806 263.500 M808 266 L810 263"/>
</g>
<!-- bracket 53153K -->
<g id="br153">
<path class="w" style="stroke-width:2.200" d="M766 287.700 L793 277.800 L804 277.800 L806.500 280.300 L810.800 301.200 L807.700 304.900 L810.200 335.600 L809.600 352.800 L795.500 352.800 L790.500 338 L780.700 327 L775.800 328.200 L767.500 323 L766 325.700 L758.600 323.300 L761 311 L766 309.800 Z"/>
<path class="l" style="stroke-width:1.800" d="M768.400 291.300 L794.200 281.500 L799.100 279 M768.400 291.300 L768.400 304.900 M775.800 291.300 L777 306 L779.500 309.800 M797.900 284 C796 289.500 793.500 294.500 790.500 298.700 C787.500 303 783.500 307 779.500 309.800 L789.300 313.500 L795.500 304.900 L801.600 296.300 L806.500 306 M799.100 279 L801.600 296.300 M802 279.500 L804.500 295.500 L808 303.500 M766 304.900 L773.300 306 L774.600 320.800 L767.500 321.500 M761 311 L766 304.900 M766 309.800 L766 325.700"/>
<path class="l" style="stroke-width:1.800" d="M794.200 313.500 L798.500 331 L801.600 352.800 M802.800 308.500 L807 322 L810.200 335.600"/>
<path class="b" style="stroke-width:2.800" d="M790.500 318.400 L794 335 L796.500 352 M799.100 311 L803.500 330 L806.500 352.800 M772.500 308 L773.500 320.500 M808.500 327 L808.800 337"/>
</g>
</g>
<!-- 50_insul.svg -->
<g id="insulator">
<!-- outer outline -->
<path class="l" style="stroke-width:2.440" d="M374.800 569.600 L392 568.900 L440 592.500 L486.500 619.300 L465.500 631.400 L469.300 634.600 L478.200 634 L482 634.600 L499.900 628.200 L506.300 628.900 L575 671.600 L605.700 692 C607.500 694 608 697.500 607 699.600 L598 706 L547 728.900 L543.200 723.800 C540 720.500 537 719 534.300 718 C528 716.500 522 716.500 516.500 717.400 C510 718.500 505 720.500 501.200 722.500 C498 725.500 496 729 495.700 733 L483 738 L449.600 742 C443 741 438 739.500 435.600 736.900 L427.900 726.700 L411.400 721.600 L400.500 708.800 L399.900 702.400 L393.500 696 L385.900 696 L359.100 682 L355.300 675 L347.600 673.800 L336 673.400 L322 669.600 L315.600 662 L299.700 658.800 C296.500 657 295 654.500 294.600 651.800 C293 649 292.500 645.500 292.600 642.800 L297.700 626.300 L305.400 614.800 L314.300 602 C316.500 599.500 319 597.500 322 595.700 L336 587.400 L357.600 576.600 L363.400 576.600 L365.300 579.100 L370.400 580.400 L371.700 576.600 Z"/>
<!-- mid outline -->
<path class="l" style="stroke-width:1.830" d="M376.500 578 L378 572.700 L390.800 572.100 L440 596.400 L478.200 618.700 L464.500 630.500 M479 637.800 L485.900 639 L501.200 633.300 L507.500 634.600 L567.400 671.600 L601.800 694.500 C602.800 696 602.800 697.300 601.800 698.300 L593 704 L544.500 723.800 M491.700 735 L472.500 738.100 L450.900 739.400 C445 739 441 737.500 438.100 735 L429.200 724.100 L413.300 719.600 L403.100 707.500 L402.400 701.200 L394.800 693.500 L387.200 693.500 L361.700 680.800 L357.800 675.700 L348.900 670 L336 669.500 L324 666 L318 658.500 L301.600 656.900 C299 655 298 653 297.700 650.500 C296.500 648 296.300 645.500 296.500 642.800 L300.900 625 L308 615"/>
<!-- top-left edge (double with hatch) -->
<path class="l" style="stroke-width:1.708" d="M361.500 579.500 L325.500 599 M364.500 581.500 L325.800 602 L317.500 608"/>
<path class="b" style="stroke-width:2.640;stroke-dasharray:1.300 1" d="M358.500 579.300 L322 598.300"/>
<!-- inner outline pieces -->
<path class="l" style="stroke-width:1.830" d="M380 576 L387 576 L404 585.800 M423.900 596.300 L455 612.200 L467.400 622.500 L452.100 637.200 L459.100 642.200 L478.200 637.200"/>
<path class="l" style="stroke-width:1.830" d="M440 604 L466 621"/>
<path class="l" style="stroke-width:1.830" d="M309.200 622.400 L305 632 C303.800 635.500 303.800 638.500 304.100 641.600 L305.400 649.200 C306 651.500 307.500 653 309.200 653.700 L322 655.600 L328.300 663.200 L346.200 667 L366.600 656.900 C369 656 372 655.500 374.200 655.600 C378 655.500 381.500 656.500 383.100 658.100 C385 659.500 385.500 661.500 385 663.200 C384.500 665.500 383.500 667 381.900 668.300 L373 672.100 L369.100 677.200 L388.200 686.800 L407.300 679.800 L420.100 679.800 C424 681 427 683.500 429 686.200 L435.600 685.900"/>
<path class="b" style="stroke-width:3.080" d="M304.300 628 C302.800 634 302.500 640 303 645 C303.500 648.500 304.500 651 306 653"/>
<!-- left corner bowl -->
<path class="l" style="stroke-width:1.830" d="M306 613.500 C308 608.500 314 605.500 319 605.500 C323 605.800 325.500 608 325.800 611.500 C326 615 322 617.500 316 618.500 L307 620 M324.500 604.600 C328 603 332 602.500 332.800 602 C337 602.500 340 605 339.800 608.400 C340 613 338 616.500 336 618.600 C330 623 321 625.500 311.800 626.300 L311.500 622 L305 622.500 M326 606.500 C329 609 329 614 326 617"/>
<path class="t" style="stroke-width:1.500" d="M311 611.500 l4 -1.500 M310 615.500 l4 -1.500 M314 609.500 l3 3 M318 608.500 l0 4"/>
<!-- top lump -->
<path class="l" style="stroke-width:1.830" d="M404 585.800 C406 584.500 409 584.500 411.200 585.500 C414 584.500 416 585.500 417.500 586.800 L418.800 589.300 M404 585.800 C401.500 587.500 400.500 589 401 590.600 C400.500 593 401 594.500 402.200 595.700 C403.500 597.500 405.500 598 407.300 598.200 L417.500 598.200 L423.900 596.300 M405.500 588.500 C408 587 412 587 414.500 588.500 L416 591.500 M405.500 588.500 C404.500 590.500 404.800 592.500 406.500 594"/>
<!-- recess upper right -->
<path class="l" style="stroke-width:1.830" d="M452 637.300 L437 642 L433 645.100 L434.300 647.600 L448.300 655.900 L456 655.900 L484.600 648.500 L501.200 644.200 L510 644.800 L529.200 658.800 L545.800 671.600 C549 673 551 675 550.900 676.700 C551 679.500 550 681.500 548.300 683 L440.700 722.800 M438.100 645.100 L448.300 652.700 L455 652.500 M488.400 648.600 L506.300 659.500"/>
<path class="l" style="stroke-width:1.708" d="M527.900 658.800 L538.100 662.600 L557 676.500 M548.300 683 L554.700 684.300 L584 702.100 M554.700 684.300 C554 681.500 555 679 557.200 677.900 L564.900 672.800 L572.500 675.400 M559.800 688.100 L573.800 684.900 L592.900 698.300 L596.500 702.500"/>
<path class="k" d="M563 674 l4 -2.500 l3 1.500 l-1 3 l-4 0 Z M570 673 l5 1 l2 6 l-4 -3 Z"/>
<!-- rect 1 -->
<path class="l" style="stroke-width:1.952" d="M473.100 671.600 L516.500 656.300 L521.600 656.900 L533.700 670.300 L531.800 673.500 L491 685.600 L483.300 684.900 Z M479.500 674.100 L519 662 L527.900 670.300 L489.700 683.700 Z"/>
<path class="b" style="stroke-width:2.684;stroke-dasharray:1.300 1" d="M478.500 671.800 L517.500 659"/>
<path class="t" style="stroke-width:1.500" d="M505 681.500 l8 -2.500"/>
<path class="l" style="stroke-width:1.830" d="M483.300 684.900 L478.200 692 L477 695.800 L492.200 690.700 M491 685.600 L494.500 688.500 M473.100 671.600 L477 690.700"/>
<path class="k" d="M491.500 688.500 l3 -1 l0.500 3 l-3 1 Z"/>
<!-- rect 2 -->
<path class="l" style="stroke-width:1.952" d="M424.100 693.500 L462.300 677.600 L467.400 678.200 L477.600 691 L476.400 693.500 L440.700 705 L434.300 703.700 Z M429.200 694.800 L461.100 680.800 L472.500 691 L439.400 703.100 Z"/>
<path class="b" style="stroke-width:2.440;stroke-dasharray:1.300 1" d="M456 699.500 L474 693.500"/>
<!-- lump 1 (left) -->
<path class="l" style="stroke-width:1.830" d="M348.900 670 L365.500 660.400 L378.200 661 C379 662.500 379 664 378.200 665.500 L366.800 674.400 L368.700 679.500 M355 671.500 C356 668 360 666 363.500 666.500"/>
<path class="t" style="stroke-width:1.586" d="M358.500 670.500 c1 -2 4 -2 4 0 M364.500 667.500 c1 -2 4 -2 4.500 -0.500 M369.500 664.500 c2 -1 4 0 4 2 c0 2 -2 3 -4 2.500 M362 664 c3 -1.500 6 -1.500 8 0"/>
<path class="l" style="stroke-width:1.708" d="M373.100 678.200 L387.800 677.600 L387.200 685.900"/>
<!-- lump 2 -->
<path class="l" style="stroke-width:1.830" d="M393.500 696 L407.500 687.200 L419 686.500 C421.500 687.500 422.800 689 422.800 690.300 C422.800 693 421 695.500 419 696.700 L408.800 699.900 L402.400 701.200 M397.300 694.800 L408.800 688.400 L416.500 689.100 L415.200 694.800 L406.300 698.600"/>
<path class="t" style="stroke-width:1.586" d="M399.500 696.500 c1 -2 4 -2 4 0 M405 693.500 c1 -2 4 -2 4.500 -0.500 M410 690.500 c2 -1 4 0 4 2 c0 2 -2 3 -4 2.500 M403 690.500 c3 -1.500 6 -1.500 8 0"/>
<path class="l" style="stroke-width:1.708" d="M419 696.700 L424.100 693.500 M422.800 690.300 L429.200 686.500"/>
<!-- slot -->
<path class="l" style="stroke-width:1.830" d="M403.700 703.700 L415.200 701.800 L429.200 717.700 L434.300 720.900 L440.700 722.800 M409.500 705.600 L413.300 704.400 L422.800 716.500 L416.500 718.400 Z"/>
<path class="b" style="stroke-width:3.080" d="M416.500 703.100 L427.900 716.500"/>
<path class="t" style="stroke-width:1.500" d="M409 710 l4 5 M412 708 l4 5"/>
<!-- lower panel -->
<path class="l" style="stroke-width:1.830" d="M440.700 722.800 L438.800 727.900 L445.800 735.600 M466.200 734.900 L490.400 734.300"/>
<path class="b" style="stroke-width:2.860" d="M440.700 725.400 L448.300 734.300"/>
<path class="l" style="stroke-width:1.586" d="M444 724 L450 731"/>
<!-- bottom bump (clip seat) -->
<path class="l" style="stroke-width:1.830" d="M497 733 C498.500 728 502 724 507 722 C512 720.500 520 720 526 721 C531 722 536 724 539.500 727 M501 731.500 C502.500 727.500 505 725.500 509 724.500 L526 724 L528 733 M536 729 L543 728 L543.500 731.500 L536.500 732.500"/>
<path class="k" d="M505.500 726.500 l9 -0.500 l0.500 3.500 l-9 0.500 Z M517 726 l7 -0.500 l1.500 6.500 l-3 0.500 l-0.500 -3.500 l-4.500 0.500 Z"/>
<rect x="508" y="727.300" width="2.500" height="1.500" fill="#fff"/><rect x="519" y="727" width="2.500" height="1.500" fill="#fff"/>
<!-- leader + dashed -->
<path class="t" style="stroke-width:1.1" d="M270 614 L305 614"/><path class="dd" d="M270 614 L305 614"/>
<path class="d" style="stroke-width:3.080;stroke-dasharray:8 4.500" d="M517 739 L517 774"/>
</g>
<!-- 55_strip.svg -->
<g id="strip">
<path class="l" style="stroke-width:2.200" d="M274.200 676.600 C271.500 675.300 268.800 677 268.300 679.800 C268 681.500 268.300 682.800 268.900 683.500 L404.500 762 L405 758.800 L403.400 756.100 L406.100 755 L406.600 751.800 Z"/>
<path class="l" style="stroke-width:1.900" d="M273.200 681.400 L403.400 756.100"/>
<path class="t" style="stroke-width:1.500" d="M300 692.500 l3 -1 M344 719 l3 -2.500 M374 736 l3 -2.500"/>
<path class="d" style="stroke-width:3.200;stroke-dasharray:9 4.500" d="M302.500 704.300 L302.500 741"/>
<!-- clip 53381A -->
<path class="w" style="stroke-width:2.400" d="M297.700 752.900 C297 747 299.500 741.500 302.500 741.200 C305.500 741.500 308 747 307.300 752.900 L310.500 755 L308.400 760.400 L304.500 762 L300.900 762 L295.600 760.400 L293.400 755 Z"/>
<path class="b" style="stroke-width:2.600" d="M299.300 746 L298.800 753 M305.700 746 L306.200 753"/>
<path class="l" style="stroke-width:1.800" d="M296 756.500 C299 759 306 759 309 756.500 M302.500 744.500 L302.500 748"/>
<path class="b" style="stroke-width:3.100" d="M302.500 762.500 L302.500 827 L380.500 827 M342 827 L342 837.500"/>
<path class="b" style="stroke-width:3.100" d="M380.500 747.600 L380.500 827"/>
</g>
<g id="clip341c">
<path class="w" style="stroke-width:2.100" d="M503.500 795.500 C503.500 791.500 510 789.500 517 789.500 C524 789.500 531 791.500 531 795.500 C531 799.500 524 802 517 802 C510 802 503.500 799.500 503.500 795.500 Z"/>
<path d="M510.500 793 C509.500 786 512 777.500 517 776.500 C522 777.500 524 786 523.500 793 C522 797.500 512 797.500 510.500 793 Z" fill="#000" stroke="#000" stroke-width="1.500"/>
<path d="M514 783 L513.500 793 M517.500 781 L517.500 794 M520.500 784 L521 792 M515 780.500 L517 778.500 L519 780.500" fill="none" stroke="#fff" stroke-width="1.100"/>
<path class="b" style="stroke-width:1.800" d="M531.500 795.500 L558 795.500"/>
<path class="t" style="stroke-width:1.1" d="M531.500 795.500 L567 795.500"/><path class="dd" d="M531.500 795.500 L567 795.500"/>
</g>
<!-- 60_seal.svg -->
<g id="seal">
<path class="w" style="stroke-width:2.300" d="M1519.600 304.800 C1522 303.500 1526 303.500 1527.600 304.800 C1529.500 307 1530 310 1530 312.800 L1531 328.700 L1534.400 342.300 L1531 356 L1532 381 L1534.400 415 L1537.800 449.300 L1540 478.900 L1547 492.500 L1553.800 499.300 L1556 510.700 L1560.600 515.300 L1559.500 519.800 L1524 519.800 L1508 510.700 C1504 508 1502 505 1502.600 501.600 L1515 485.700 L1515 472 L1512.800 453.800 L1503.700 435.600 C1502 432 1502 428 1502.600 424.200 L1506 415 L1501.400 399.200 L1497 376.500 L1494.600 358.300 C1494.300 352 1495 346 1497 342.300 L1508 333.200 L1516 324 L1518.500 312.800 Z"/>
<!-- inner contours -->
<path class="l" style="stroke-width:1.900" d="M1522 308 C1523.500 307 1525 307 1526 308 L1527 328 L1529 343 L1527 357 L1528 381 L1530.500 415 L1534 449 L1536 479 L1541 492 M1522 308 L1521.500 324 L1518 332 L1510 338 C1504 342 1502 348 1502.500 356 L1505 376 L1509 398 L1514 414 M1500 345 C1498.500 350 1498.500 355 1499 360 L1502 378 L1506 399 L1510 413"/>
<path class="l" style="stroke-width:1.800" d="M1513 341 C1509 343 1507.500 348 1508 354 L1510 370 L1514 392 L1519 412 M1513 341 L1520 337 L1523 330 M1520 337 L1521 356 L1523 380 L1526 413"/>
<!-- rungs upper -->
<path class="l" style="stroke-width:1.600" d="M1508 355.500 L1521 355 M1503 377 L1523 375.500 M1506 392 L1525 390 M1510 405 L1526 403"/>
<path class="l" style="stroke-width:1.600" d="M1514 358 L1516 373 M1516 378 L1518.500 391 M1519 393 L1521 404 M1509 380 L1511.500 391"/>
<!-- heavy right rail -->
<path class="b" style="stroke-width:3.600" d="M1529.500 345 L1531 381 L1533 415 L1536.500 449 L1538.500 478"/>
<!-- lower half contours -->
<path class="l" style="stroke-width:1.800" d="M1506 424 C1505 428 1505.500 432 1507 435 L1516 452 L1518.500 472 L1518.500 484 M1510 422 C1509 426 1510 430 1512 434 L1520 450 L1523 470 L1523 486 M1516 421 L1520 440 L1527 460 L1529 478 M1523 420 L1526 440 L1531 462 L1532.500 480"/>
<path class="l" style="stroke-width:1.600" d="M1509 431 L1524 429 M1514 443 L1527 441 M1518 455 L1530 453 M1521 468 L1532 466"/>
<!-- foot -->
<path class="l" style="stroke-width:1.800" d="M1515 486 L1507 498 C1505.500 501 1506.500 504 1509 506 L1524 515.500 L1554 515.500 M1518.500 487 L1516 515 M1523 487 L1522 516 M1529 483 L1528.500 516 M1516 500 L1547 497 M1515.500 507 L1553 504 M1533 481 L1538 493 L1546 501 L1550 512 M1541 492 C1543 498 1546 502 1550 505"/>
<path class="w" style="stroke-width:1.500" d="M1508.500 499.500 L1515 498 L1515.500 507.500 L1510.500 506.500 Z"/>
<path class="k" d="M1546 505 L1554 512 L1556.500 516 L1543 516 Z"/>
<!-- white gaps where dashed leader crosses -->
<path d="M1498 420.500 L1530 413.500" stroke="#fff" stroke-width="3" fill="none"/>
<path d="M1512 480.500 L1535 475" stroke="#fff" stroke-width="2.500" fill="none"/>
<!-- dashed leaders -->
<path class="d" style="stroke-width:2.100;stroke-dasharray:8.800 4.800" d="M1391 450.300 L1506 420"/>
<path class="d" style="stroke-width:2.100;stroke-dasharray:8.800 4.800" d="M1476 489.500 L1530 477"/>
<!-- bracket lines -->
<path class="b" style="stroke-width:2.800" d="M1377.600 462 L1377.600 543 M1377.600 582 L1377.600 648 L1551 648 L1551 521"/>
<path class="t" style="stroke-width:1.1" d="M1466 502 L1466 595 M1466 636 L1466 660"/><path class="dd" style="stroke-width:3.400" d="M1466 502 L1466 595 M1466 636 L1466 660"/>
</g>
<!-- 70_liner.svg -->
<g id="liner">
<!-- outer silhouette -->
<path class="l" style="stroke-width:2.250" d="M768.800 964.300 L772.600 956.700 L773.800 950.500 L804 927.800 L809.600 920.300 L835.400 914.600 L850.500 921.600 L864.300 929.100 L874.300 928.500 L876.200 881.400 L884.400 875.700 L885.600 860 L892.700 826.700 L898.900 821 L910.300 817.300 L915.300 807.800 C920 802 925 796.500 930.400 791.500 C938 785 946 779 954.200 773.900 C960 770.500 966 767.500 973.100 765.100 L983.100 763.900 L990.700 753.200 L1028.300 752.600 L1038.200 749.100 L1045.500 742.700 L1072.800 746.400 C1080 748.500 1087 751.500 1092.800 755.500 C1100 759 1108 763.500 1114.600 768.200 C1120.500 772.500 1126 777.500 1131 782.800 C1134.500 788 1137.500 793.500 1140.100 799.200 C1143.500 808.500 1146.500 818.500 1149.200 828.300 C1152 835.500 1154.500 843 1156.500 850.100 C1158 857.500 1159 865 1159.200 872 L1158.300 904.700 L1164.700 903.800 L1163.800 907.500 L1136.500 917.500 L1125.600 908.400 L1123.700 872 L1119.200 857.400 L1120.100 831.900 C1119 820.500 1117 809.500 1114.600 799.200 C1112.500 796.500 1110 794 1107.400 791.900 C1102.500 787.500 1098 784 1092.800 781 C1088.500 779 1084.500 777.500 1080.100 776.400 L1065.500 774.600 C1059.500 775.500 1053 776.500 1047.300 778.200 C1038 781.500 1029 785.500 1020 790 C1013.500 794 1007 799.500 1002 805.300 C998 811 994.500 817.500 990.700 826.700 L973.100 846.800 C968.500 854 964 862.500 960 872.600 C956 880.500 953.500 889 952.200 897.700 C950 910 948.800 922.500 948.400 935.400 L947.200 966.800 L919.500 970.600 L898.200 973.700 L863 976.800 L790.200 968 L783.900 969.900 L771.300 968 Z"/>
<!-- front tab -->
<path class="l" style="stroke-width:1.875" d="M772.600 956.700 L780.100 956.100 L787 964.300 L783.900 968 M783.900 954.200 L791.400 964.300 L790.200 968 M791.400 959.200 L863 973.700 L885.600 971.800 M791.400 961.700 L860.500 975.600"/>
<path class="t" style="stroke-width:1.500" d="M775.500 964 l4 0 M776.500 963 l2.500 0"/>
<path class="l" style="stroke-width:2.125" d="M773.800 952.300 L830.400 949.800 L846.700 947.300 L873.100 964.300"/>
<path class="b" style="stroke-width:2.640" d="M784.500 946.700 L805.200 931.600"/>
<path class="l" style="stroke-width:1.875" d="M805.200 931.600 L812.800 922.800 L840.400 917.800 L842.900 921.600 M809.600 932.900 L815.300 925.300 L841.700 919.700 M809.600 932.900 L812.800 936.600 L817.800 937.900 L822.800 930.400 L835.400 937.900 L830.400 947.900 L817.800 937.900 M822.800 930.400 L841.700 922.800 M835.400 937.900 L856.700 934.100 L847.900 926.600 L850.500 924.100"/>
<!-- rail -->
<path class="l" style="stroke-width:2.000" d="M850.500 924.100 L878.100 950.500 L875.600 956.700 L870.600 957.400 L856.700 934.100 M856.700 934.100 L876.800 956.700 M846.700 947.300 L856.700 953.600 L866.800 951.700 L870.600 957.400"/>
<path class="b" style="stroke-width:2.750" d="M852 928 L876 952"/>
<path class="l" style="stroke-width:2.000" d="M864.300 932.900 L910.800 960.500 M868 937.900 L909.500 963 M873.100 935.400 L880.600 934.100 L922.100 959.200 M878.100 958 L899.400 973.100 M885.600 960.500 L902 970.600"/>
<path class="b" style="stroke-width:2.640" d="M888 948 L911 961.500"/>
<path class="w" style="stroke-width:1.625" d="M873.500 944 L883 946.500 L884.500 950 L875.500 947.500 Z M892 952.500 L901.500 957.500 L900.500 960 L891 955 Z"/>
<path class="t" style="stroke-width:1.500" d="M920 969.500 l6 -1.500 M930 968 l6 -1.500"/>
<!-- leg ribs -->
<path class="l" style="stroke-width:2.000" d="M876.200 881.400 L879.300 886.400 L885.600 885.100 M879.300 886.400 L878.700 930.400 M884.400 875.700 L888.100 872.600 M886.900 860 L883.700 932.900 M889.400 860 L886.900 935.400 M896.900 860 L891.900 940.400 M902 860 L898.200 945.400 M908.200 860 L904.500 914 M918.300 860 L913.300 919"/>
<path class="l" style="stroke-width:2.000" d="M900.700 914 L928.300 930.400 L927.100 961.800 L922.100 960.500 L922.700 934.100 L902 921.600 M904.500 914 L913.300 919 L929.600 927.800 L930.900 960.500"/>
<path class="b" style="stroke-width:3.080" d="M940.900 866.300 C937.500 872 935.500 878.500 934.600 885.100 C933 893 932.300 901.500 932.100 910.300 L933.400 961.800"/>
<path class="l" style="stroke-width:2.000" d="M949.700 878.800 C947 889 945.500 899.500 944.700 910.300 L942.200 965.500 M919.500 863.800 L935.900 872.600 M942.200 862.500 L956 870 L951 882.600"/>
<!-- upper leg -->
<path class="l" style="stroke-width:2.000" d="M892.700 826.700 L892 835.500 L885.100 870 M898.900 821 L904 820.400 M910.300 817.300 L920.300 815.400 L923.400 825.400 L922.800 836.700 M904 821.500 L920.300 830.500 M906.500 820.500 L921.500 828 M910.300 819.200 L922.200 825.400"/>
<path class="l" style="stroke-width:2.000" d="M893.900 827.900 L902.700 826.700 L905.200 831.700 L922.800 836.700 L945.400 844.300 M902.700 833 L897.700 870 M907.700 834.200 L904 870 M914 838 L910.300 870 M921.600 839.200 L916.500 870"/>
<path class="b" style="stroke-width:3.300" d="M898.900 830.500 L892.700 858.100"/>
<path class="l" style="stroke-width:1.875" d="M912.100 817.900 L919 807.800 C924 801.500 929.500 795.500 935.400 790.300 C941.500 785 948.500 780 955.500 775.800 C961 772.500 967 769.500 973.100 767"/>
<path class="l" style="stroke-width:1.875" d="M949.200 779 C953 776 957.500 775.500 960.500 776.400 C964 777 966.500 778.500 966.200 780.200 C965.500 782.500 964 784.500 961.800 785.200 M947.900 785.200 C946 787 945.500 789 946.700 790.300 C949 792 953 792 955.500 790.900"/>
<path class="l" style="stroke-width:2.000" d="M932.900 839.200 C935 833 938 826.500 941.700 820.400 C947 811.500 953.500 803 960.500 795.300 C968 787.500 977 780 986.900 773.300 C995 768.500 1004.500 764 1014.500 760.700 L1035.900 752.600 L1045.900 746.300"/>
<path class="l" style="stroke-width:1.875" d="M932.900 839.200 L945.400 844.300 L956.700 833 L964.300 827.900 L976.800 808.500 M919 861.900 L935.400 854.300 L945.400 844.300 M919 863 L927.800 870"/>
<path class="b" style="stroke-width:2.860" d="M958 833 L945.400 853.100 L940.400 870"/>
<path class="l" style="stroke-width:1.875" d="M942.900 859.300 L959.200 866.900 L964.300 856.800 M990.700 826.700 L973.100 846.800 L960.500 870 M993.200 827.900 L988.100 838 L975.600 853.100 L966.800 870"/>
<!-- tab on top -->
<path class="l" style="stroke-width:1.875" d="M990.700 753.200 L984.400 763.900 L998.200 765.100 L1010.800 761.400 L1028.300 752.600 M991.900 755.100 L1008.200 760.700 L1014.500 762.600 M973.100 765.100 L986.900 772.700 L1010.800 761.400 M978.100 767 L1002 767"/>
<path class="l" style="stroke-width:1.875" d="M1045.500 742.700 L1040.500 748 L1030 753 M1028 756 L1048 751.500 L1052 747.500 M1048 746 L1072 749.500"/>
<!-- circle -->
<ellipse class="l" style="stroke-width:2.375" cx="998.800" cy="788.400" rx="11.300" ry="9.600"/>
<path class="l" style="stroke-width:1.625" d="M993.500 791.500 C997 794.500 1002 794 1004.500 791.500 M1006 786 L1007 789"/>
<!-- band -->
<path class="l" style="stroke-width:2.000" d="M976.800 808.500 L999.400 804.700 C1005 800 1011 795.500 1017 791.500 C1030 785 1045 779.500 1060 775.800 M1002 805.300 C1010 800.500 1018.500 796.500 1027.100 792.800 C1038 787.500 1049 783 1060 779 L1078.200 778.200"/>
<path class="l" style="stroke-width:2.000" d="M976.800 808.500 L990.700 825.400 M990.700 807.800 L995.700 822.900 M995 806.500 L998.200 820.400 M990.700 825.400 L999.400 822.900 L1009.500 817.900"/>
<path class="k" d="M1000.500 820.500 L1009.500 816.500 L1002 823 Z"/>
<path class="b" style="stroke-width:2.750" d="M978 810 L990.700 825.400 M1000.500 806 L1002 818"/>
<path class="l" style="stroke-width:2.000" d="M1002 807.800 L1012 801.600 L1017 807.800 L1014.500 814.100 L1003.200 815.400 M1017 800.300 L1027.100 796.500 L1028.300 801.600 L1023.300 805.300 L1018.300 804.100 Z M1028.300 796.500 L1035.900 800.300 L1074.600 788.200 L1078.200 782.800"/>
<path class="t" style="stroke-width:1.500" d="M1020.500 800.500 l2 2 l3 -3"/>
<path class="l" style="stroke-width:1.875" d="M1081.900 782.800 L1091 782.800 L1090.100 786.400 L1083 786.400 Z"/>
<ellipse class="l" style="stroke-width:1.875" cx="1099.200" cy="786.400" rx="3.600" ry="5.600" transform="rotate(-35 1099.200 786.400)"/>
<!-- top oval -->
<ellipse class="l" style="stroke-width:2.375" cx="1084.600" cy="763.700" rx="11.300" ry="5.200" transform="rotate(27 1084.600 763.700)"/>
<path class="l" style="stroke-width:1.625" d="M1087 760 C1091 761.500 1094 764.500 1095 768"/>
<!-- right outer second lines -->
<path class="l" style="stroke-width:2.000" d="M1089.200 760 C1098 763 1107 767 1114.600 771.900 C1121 776.500 1126.500 782 1131 788.200 C1136 796.500 1140.500 805.500 1143.800 815.500 C1147 823 1149.500 831 1151 839.200 C1153.500 850 1155 861 1155.600 872 L1155.600 893.800"/>
<path class="l" style="stroke-width:2.000" d="M1092.800 766.400 C1099 769 1105.500 772 1111 775.500 C1116.500 779 1121.500 783.500 1125.600 788.200 C1130.500 794.500 1135 802 1138.300 810.100 C1142 819 1145 829 1147.400 839.200 C1149.500 851 1150.500 863 1151 875.600 M1098.300 779.100 L1111.900 784.600"/>
<!-- right leg ribs -->
<path class="b" style="stroke-width:2.860" d="M1117.400 782.800 L1125.600 790 L1125.600 802.800 M1116.500 801 L1121.900 831.900 L1121 857.400"/>
<path class="l" style="stroke-width:2.125" d="M1121.900 801 L1129.200 839.200 L1131 873.800 M1127.400 810.100 L1134.700 839.200 L1136.500 875.600 M1138.300 817.400 L1145.600 846.500 L1147.400 875.600 L1143.800 872"/>
<path class="b" style="stroke-width:2.640" d="M1132.900 815.500 L1140.100 842.800 L1141 877.400"/>
<path class="l" style="stroke-width:2.000" d="M1123.700 872 L1147.400 884.700 L1148.300 904.700 L1136.500 917.500 M1126.500 882.900 L1132.900 884.700 L1133.800 904.700 L1148.300 904.700 M1133.800 904.700 L1136.500 917.500 M1147.400 884.700 L1158.300 892 M1134 909 L1150 906"/>
<!-- leader -->
<path class="l" style="stroke-width:2.875" d="M1150 829.500 L1182 829.500"/>
</g>
</svg>
</body></html>
